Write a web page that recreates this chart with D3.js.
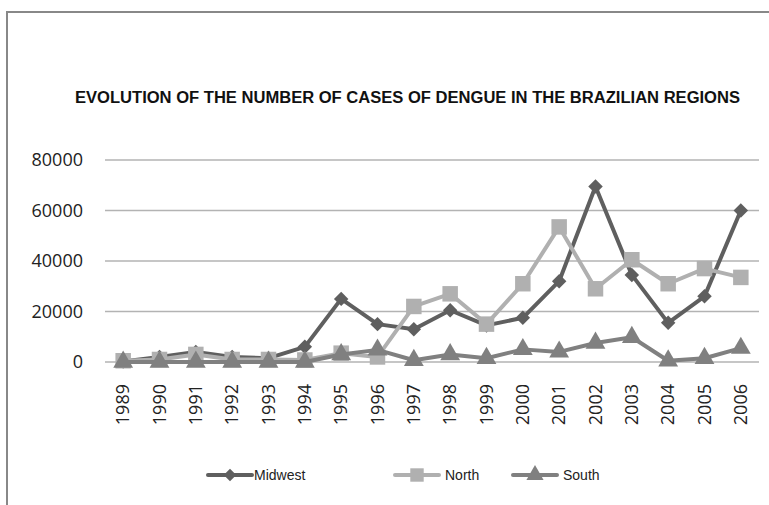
<!DOCTYPE html>
<html>
<head>
<meta charset="utf-8">
<script src="https://cdn.jsdelivr.net/npm/d3@7"></script>
<style>
  body { margin: 0; background: #fff; }
  svg { display: block; }
</style>
</head>
<body>
<div id="chart"></div>
<script>
// Data
const years = ["1989","1990","1991","1992","1993","1994","1995","1996","1997",
               "1998","1999","2000","2001","2002","2003","2004","2005","2006"];
const midwest = [200, 2000, 4000, 2000, 1500, 6000, 25000, 15000, 13000,
                 20500, 14500, 17500, 32000, 69500, 34500, 15500, 26000, 60000];
const north   = [500, 1000, 3000, 1000, 1000, 800, 3500, 2000, 22000,
                 27000, 15000, 31000, 53500, 29000, 40500, 31000, 37000, 33500];
const south   = [0, 0, 0, 0, 0, 0, 3000, 4800, 700,
                 3000, 1500, 5000, 4000, 7500, 9800, 500, 1500, 5500];
const yTicks  = [0, 20000, 40000, 60000, 80000];

const W = 769, H = 505;
const svg = d3.select("#chart").append("svg")
    .attr("width", W).attr("height", H);

// frame
svg.append("path")
    .attr("d", "M7,505 L7,12 L769,12")
    .attr("fill", "none")
    .attr("stroke", "#888")
    .attr("stroke-width", 2);

// title
svg.append("text")
    .attr("x", 75).attr("y", 103)
    .attr("textLength", 665)
    .attr("lengthAdjust", "spacingAndGlyphs")
    .style("font-family", "'Liberation Sans', Arial, sans-serif")
    .style("font-weight", "bold")
    .style("font-size", "16px")
    .style("fill", "#111")
    .text("EVOLUTION OF THE NUMBER OF CASES OF DENGUE IN THE BRAZILIAN REGIONS");

// scales
const x = d3.scaleBand().domain(years).range([105, 759]);
const y = d3.scaleLinear().domain([0, 80000]).range([362, 160]);
const cx = d => x(d) + x.bandwidth() / 2;

// gridlines
svg.append("g")
    .selectAll("line")
    .data(yTicks)
    .enter().append("line")
    .attr("x1", 105).attr("x2", 759)
    .attr("y1", d => y(d)).attr("y2", d => y(d))
    .attr("stroke", "#b3b3b3")
    .attr("stroke-width", 1.5);

const tickFont = "'Open Sans', 'Noto Sans', sans-serif";

// y axis labels
const yAxis = svg.append("g")
    .attr("transform", "translate(98,0)")
    .call(d3.axisLeft(y).tickValues(yTicks).tickSize(0).tickPadding(15).tickFormat(d3.format("d")));
yAxis.select(".domain").remove();
yAxis.selectAll("text")
    .style("font-family", tickFont)
    .style("font-size", "18px")
    .style("fill", "#222");

// x axis labels
const xAxis = svg.append("g")
    .attr("transform", "translate(0,372)")
    .call(d3.axisBottom(x).tickSize(0).tickPadding(0));
xAxis.select(".domain").remove();
xAxis.selectAll("text")
    .attr("transform", "rotate(-90)")
    .attr("x", -12).attr("y", 0)
    .attr("dy", "0.35em")
    .attr("text-anchor", "end")
    .style("font-family", tickFont)
    .style("font-size", "18px")
    .style("fill", "#222");

// diamond = square turned 45 degrees (wider than d3.symbolDiamond)
const series = [
  { name: "Midwest", values: midwest, color: "#5f5f5f", symbol: d3.symbolSquare,   size: 105, rot: 45 },
  { name: "North",   values: north,   color: "#b0b0b0", symbol: d3.symbolSquare,   size: 240, rot: 0 },
  { name: "South",   values: south,   color: "#808080", symbol: d3.symbolTriangle, size: 170, rot: 0 }
];

const line = d3.line()
    .x((d, i) => cx(years[i]))
    .y(d => y(d));

series.forEach(s => {
  const g = svg.append("g");
  g.append("path")
      .datum(s.values)
      .attr("d", line)
      .attr("fill", "none")
      .attr("stroke", s.color)
      .attr("stroke-width", 4)
      .attr("stroke-linejoin", "round");
  g.selectAll("path.pt")
      .data(s.values)
      .enter().append("path")
      .attr("class", "pt")
      .attr("transform", (d, i) => "translate(" + cx(years[i]) + "," + y(d) + ") rotate(" + s.rot + ")")
      .attr("d", d3.symbol().type(s.symbol).size(s.size))
      .attr("fill", s.color);
});

// legend
const legendX = [208, 395, 513];
const legend = svg.append("g");
series.forEach((s, i) => {
  const lg = legend.append("g").attr("transform", "translate(" + legendX[i] + ",475)");
  lg.append("line")
      .attr("x1", 0).attr("x2", 44)
      .attr("stroke", s.color).attr("stroke-width", 4)
      .attr("stroke-linecap", "round");
  lg.append("path")
      .attr("transform", "translate(22,0) rotate(" + s.rot + ")")
      .attr("d", d3.symbol().type(s.symbol).size(s.size * 0.75))
      .attr("fill", s.color);
  lg.append("text")
      .attr("x", i === 0 ? 46 : 50).attr("y", 0)
      .attr("dy", "0.35em")
      .style("font-family", "'Liberation Sans', Arial, sans-serif")
      .style("font-size", "14px")
      .style("fill", "#222")
      .text(s.name);
});
</script>
</body>
</html>
